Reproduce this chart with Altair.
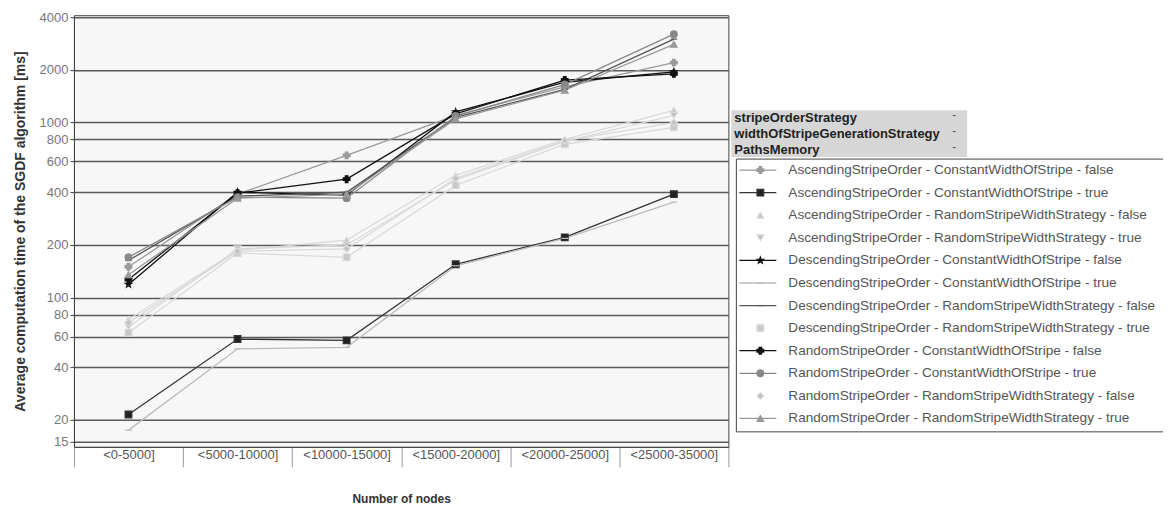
import altair as alt
import pandas as pd

categories = ["<0-5000]", "<5000-10000]", "<10000-15000]", "<15000-20000]",
              "<20000-25000]", "<25000-35000]"]

series_names = [
    "AscendingStripeOrder - ConstantWidthOfStripe - false",
    "AscendingStripeOrder - ConstantWidthOfStripe - true",
    "AscendingStripeOrder - RandomStripeWidthStrategy - false",
    "AscendingStripeOrder - RandomStripeWidthStrategy - true",
    "DescendingStripeOrder - ConstantWidthOfStripe - false",
    "DescendingStripeOrder - ConstantWidthOfStripe - true",
    "DescendingStripeOrder - RandomStripeWidthStrategy - false",
    "DescendingStripeOrder - RandomStripeWidthStrategy - true",
    "RandomStripeOrder - ConstantWidthOfStripe - false",
    "RandomStripeOrder - ConstantWidthOfStripe - true",
    "RandomStripeOrder - RandomStripeWidthStrategy - false",
    "RandomStripeOrder - RandomStripeWidthStrategy - true",
]

asc_const_false = [150, 390, 650, 1100, 1600, 2200]
asc_const_true = [21.5, 58, 57, 155, 221, 390]
asc_rand_false = [75, 186, 213, 500, 802, 1175]
asc_rand_true = [68, 190, 200, 470, 780, 1100]
desc_const_false = [119, 400, 385, 1150, 1700, 1950]
desc_const_true = [17.5, 51, 52, 152, 218, 351]
desc_rand_false = [163, 380, 400, 1070, 1550, 3000]
desc_rand_true = [63, 180, 170, 438, 752, 940]
rand_const_false = [127, 395, 475, 1120, 1750, 1900]
rand_const_true = [170, 375, 370, 1090, 1650, 3200]
rand_rand_false = [72, 184, 190, 480, 790, 1000]
rand_rand_true = [135, 370, 390, 1050, 1530, 2800]

all_values = [asc_const_false, asc_const_true, asc_rand_false, asc_rand_true,
              desc_const_false, desc_const_true, desc_rand_false, desc_rand_true,
              rand_const_false, rand_const_true, rand_rand_false, rand_rand_true]

y_ticks = [15, 20, 40, 60, 80, 100, 200, 400, 600, 800, 1000, 2000, 4000]

legend_title_lines = ["stripeOrderStrategy", "widthOfStripeGenerationStrategy", "PathsMemory"]

# styles
series_colors = ["#9a9a9a", "#222222", "#c4c4c4", "#bdbdbd",
                 "#111111", "#b0b0b0", "#555555", "#c8c8c8",
                 "#111111", "#888888", "#c0c0c0", "#999999"]
line_colors = ["#9a9a9a", "#333333", "#dadada", "#dadada",
               "#111111", "#bbbbbb", "#555555", "#dadada",
               "#111111", "#888888", "#dadada", "#999999"]
STAR = "M0,-1L0.24,-0.33L0.95,-0.31L0.38,0.12L0.59,0.81L0,0.4L-0.59,0.81L-0.38,0.12L-0.95,-0.31L-0.24,-0.33Z"
series_shapes = ["cross", "square", "triangle-up", "triangle-down",
                 STAR, "stroke", "stroke", "square",
                 "cross", "circle", "diamond", "triangle-up"]
legend_has_line = [True, True, False, False, True, True, True, False, True, True, False, True]

FONT = "Liberation Sans"
PW, PH = 655, 432
LW = 432

rows = []
for name, vals in zip(series_names, all_values):
    for c, v in zip(categories, vals):
        rows.append({"series": name, "category": c, "value": v})
df = pd.DataFrame(rows)

fill_scale = alt.Scale(domain=series_names, range=series_colors)
line_scale = alt.Scale(domain=series_names, range=line_colors)
shape_scale = alt.Scale(domain=series_names, range=series_shapes)

x_enc = alt.X("category:N", sort=categories,
              scale=alt.Scale(type="band", paddingInner=0, paddingOuter=0),
              axis=alt.Axis(title="Number of nodes", tickBand="extent", tickSize=20,
                            labelPadding=-18, labelAngle=0, labelBaseline="top",
                            labelFontSize=13, labelColor="#555", tickColor="#999",
                            domainColor="#444", grid=False, titleFontSize=12,
                            titleFontWeight="bold", titleColor="#333", titlePadding=26,
                            labelFont=FONT, titleFont=FONT))
y_enc = alt.Y("value:Q",
              scale=alt.Scale(type="log", domain=[14.05, 4106], nice=False),
              axis=alt.Axis(values=y_ticks, format="d",
                            title="Average computation time of the SGDF algorithm [ms]",
                            labelFontSize=13, labelColor="#777", tickColor="#444", tickSize=4,
                            domainColor="#444", gridColor="#5a5a5a", gridWidth=1.5,
                            titleFontSize=14, titleFontWeight="bold", titleColor="#333",
                            minExtent=40, maxExtent=40, titlePadding=6,
                            labelFont=FONT, titleFont=FONT))

lines = alt.Chart(df).mark_line(strokeWidth=1.3).encode(
    x=x_enc, y=y_enc,
    stroke=alt.Stroke("series:N", scale=line_scale, legend=None),
)
points = alt.Chart(df).mark_point(filled=True, size=45, opacity=1, strokeWidth=1.2).encode(
    x=x_enc, y=y_enc,
    fill=alt.Fill("series:N", scale=fill_scale, legend=None),
    stroke=alt.Stroke("series:N", scale=line_scale, legend=None),
    shape=alt.Shape("series:N", scale=shape_scale, legend=None),
)
main = alt.layer(lines, points).properties(
    width=PW, height=PH,
    view=alt.ViewBackground(fill="#f7f7f7", stroke="#444", strokeWidth=1),
)

# ---------- custom legend panel ----------
lxs = alt.Scale(domain=[0, LW], range=[0, LW])
lys = alt.Scale(domain=[0, PH], range=[0, PH])

leg_df = pd.DataFrame({
    "series": series_names,
    "y": [155 + 22.6 * i for i in range(len(series_names))],
    "line": legend_has_line,
})
title_df = pd.DataFrame({"t": legend_title_lines, "y": [103, 119, 135]})
box_df = pd.DataFrame({"x": [5], "x2": [LW + 20], "y": [144], "y2": [417]})
tbg_df = pd.DataFrame({"x": [0], "x2": [236], "y": [95], "y2": [142]})

def X(f):
    return alt.X(f, type="quantitative", scale=lxs, axis=None)

def Y(f):
    return alt.Y(f, type="quantitative", scale=lys, axis=None)

tbg = alt.Chart(tbg_df).mark_rect(fill="#d6d6d6").encode(
    x=X("x"), x2="x2", y=Y("y"), y2="y2")
ttext = alt.Chart(title_df).mark_text(align="left", baseline="middle", fontWeight="bold",
                                      fontSize=13, color="#222", font=FONT).encode(
    x=alt.value(3), y=Y("y"), text="t:N")
tdash = alt.Chart(title_df).mark_text(align="center", baseline="middle", fontSize=12,
                                      color="#555", font=FONT, dy=-3).encode(
    x=alt.value(223), y=Y("y"), text=alt.value("-"))
box = alt.Chart(box_df).mark_rect(fill="white", stroke="#444", strokeWidth=1, clip=True).encode(
    x=X("x"), x2="x2", y=Y("y"), y2="y2")
lrule = alt.Chart(leg_df).transform_filter("datum.line").mark_rule(strokeWidth=1.3).encode(
    x=alt.value(8), x2=alt.value(45), y=Y("y"),
    stroke=alt.Stroke("series:N", scale=line_scale, legend=None))
lpoint = alt.Chart(leg_df).mark_point(filled=True, size=45, opacity=1, strokeWidth=1.2).encode(
    x=alt.value(29), y=Y("y"),
    fill=alt.Fill("series:N", scale=fill_scale, legend=None),
    stroke=alt.Stroke("series:N", scale=line_scale, legend=None),
    shape=alt.Shape("series:N", scale=shape_scale, legend=None))
ltext = alt.Chart(leg_df).mark_text(align="left", baseline="middle", fontSize=13.6,
                                    color="#555", font=FONT, clip=True).encode(
    x=alt.value(57), y=Y("y"), text="series:N")

legend_panel = alt.layer(tbg, ttext, tdash, box, lrule, lpoint, ltext).properties(
    width=LW, height=PH, view=alt.ViewBackground(stroke=None))

chart = alt.hconcat(main, legend_panel, spacing=2).properties(
    padding={"left": 5, "top": 2, "right": 0, "bottom": 0},
    background="white",
).configure_view(stroke=None)

chart.save("out.html", embed_options={"renderer": "svg", "actions": False})
